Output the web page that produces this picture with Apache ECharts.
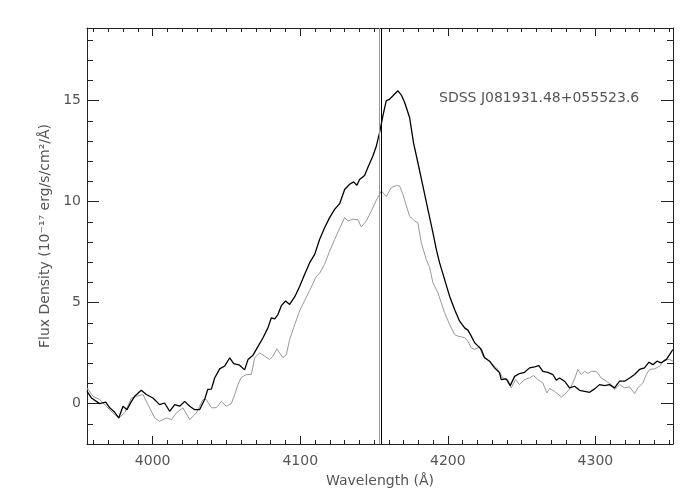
<!DOCTYPE html>
<html>
<head>
<meta charset="utf-8">
<script src="https://cdn.jsdelivr.net/npm/echarts@6/dist/echarts.min.js"></script>
<style>html,body{margin:0;padding:0;background:#fff}#c{width:700px;height:500px}</style>
</head>
<body>
<div id="c"></div>
<script>
// ---- data ----
const blackWave = [3955.5,3958.5,3964.1,3968.2,3970.9,3974.3,3977.0,3979.9,3982.6,3985.6,3987.8,3992.3,3995.7,4000.2,4004.7,4008.1,4011.5,4014.9,4018.3,4021.7,4025.1,4028.5,4031.8,4033.0,4035.2,4037.3,4039.8,4042.0,4045.4,4048.8,4052.2,4054.9,4058.9,4062.3,4064.6,4068.0,4071.1,4074.7,4078.1,4080.4,4082.7,4084.9,4087.2,4090.1,4092.8,4096.2,4099.6,4103.0,4106.4,4109.8,4113.1,4116.5,4119.9,4123.3,4126.7,4130.1,4133.5,4136.2,4138.4,4140.2,4143.6,4145.9,4149.3,4151.6,4153.8,4156.0,4158.3,4160.1,4161.7,4164.0,4166.2,4167.3,4168.5,4170.7,4174.1,4176.8,4179.7,4183.1,4186.5,4189.9,4192.2,4194.4,4197.8,4201.2,4204.6,4208.0,4211.4,4213.6,4215.9,4218.2,4221.1,4222.7,4224.9,4228.3,4231.7,4235.1,4236.2,4239.6,4242.3,4245.3,4248.6,4252.0,4255.4,4258.8,4261.7,4264.4,4267.8,4269.0,4271.2,4273.5,4275.7,4279.1,4282.5,4285.9,4289.3,4292.7,4296.1,4299.5,4302.8,4306.2,4309.6,4313.0,4316.4,4319.8,4323.2,4326.6,4329.9,4333.3,4336.3,4339.0,4341.7,4344.6,4348.0,4350.3,4352.5];
const blackFlux = [0.61,0.28,0.0,0.07,-0.21,-0.43,-0.71,-0.13,-0.3,0.11,0.36,0.66,0.45,0.28,-0.05,0.03,-0.38,-0.05,-0.13,0.11,-0.13,-0.3,-0.3,-0.38,0.2,0.7,0.72,1.27,1.72,1.86,2.27,1.98,1.9,1.67,2.18,2.4,2.8,3.25,3.75,4.25,4.2,4.41,4.85,5.08,4.91,5.28,5.8,6.4,6.98,7.39,8.13,8.71,9.21,9.62,9.9,10.6,10.86,10.98,10.81,11.1,11.3,11.7,12.27,12.76,13.43,14.25,15.0,15.05,15.16,15.33,15.49,15.54,15.28,14.92,14.17,12.9,11.94,10.78,9.62,8.47,7.64,6.98,6.15,5.32,4.66,4.08,3.75,3.64,3.34,3.01,2.81,2.68,2.27,2.1,1.77,1.52,1.19,1.22,0.89,1.35,1.49,1.55,1.77,1.82,1.88,1.6,1.55,1.52,1.44,1.16,1.27,1.11,0.78,0.86,0.66,0.61,0.56,0.73,0.94,0.89,0.94,0.78,1.11,1.11,1.27,1.44,1.69,1.77,2.05,1.93,2.1,2.02,2.18,2.43,2.68];
const grayWave = [3955.5,3959.6,3964.1,3968.6,3973.1,3977.0,3981.0,3985.6,3989.0,3993.4,3996.8,4001.4,4004.7,4009.3,4012.7,4016.1,4020.5,4025.1,4029.6,4031.8,4034.1,4036.4,4039.8,4043.2,4046.5,4049.9,4053.3,4055.6,4057.8,4060.1,4063.5,4066.9,4069.1,4072.5,4075.9,4079.3,4081.5,4084.2,4086.0,4088.3,4090.6,4092.8,4096.2,4099.6,4103.0,4106.4,4110.9,4113.1,4116.5,4119.9,4123.3,4126.7,4130.1,4132.3,4135.7,4139.1,4141.4,4144.8,4148.2,4151.6,4155.0,4158.3,4161.7,4165.1,4167.3,4169.6,4171.9,4174.1,4177.5,4179.7,4182.0,4185.4,4187.7,4189.9,4193.3,4195.6,4197.8,4201.2,4204.6,4206.8,4209.1,4211.4,4213.6,4215.9,4218.2,4221.5,4223.8,4227.2,4230.6,4233.9,4237.3,4240.7,4243.0,4245.9,4248.6,4252.0,4255.4,4258.1,4261.0,4264.4,4267.1,4269.0,4272.3,4276.9,4280.3,4283.7,4285.9,4288.1,4290.4,4292.7,4294.9,4297.2,4300.6,4304.0,4307.4,4310.8,4313.0,4316.4,4319.8,4323.2,4326.6,4328.8,4332.2,4334.5,4336.7,4340.1,4343.5,4346.9,4350.3,4352.5];
const grayFlux = [0.78,0.36,0.2,-0.13,-0.46,-0.71,-0.46,0.28,0.36,0.45,-0.05,-0.71,-0.88,-0.71,-0.79,-0.46,-0.21,-0.79,-0.46,-0.13,0.2,0.2,-0.21,-0.2,0.1,-0.13,0.0,0.45,0.94,1.3,1.44,1.45,2.27,2.51,2.35,2.18,2.35,2.71,2.51,2.27,2.43,3.17,3.9,4.6,5.1,5.6,6.3,6.45,6.9,7.55,8.13,8.67,9.21,9.04,9.13,9.1,8.75,9.05,9.55,10.08,10.53,10.25,10.7,10.8,10.78,10.37,9.79,9.29,9.04,8.96,7.97,7.14,6.73,5.99,5.49,4.99,4.5,3.92,3.42,3.34,3.31,3.26,3.09,2.76,2.68,2.81,2.35,2.18,1.93,1.69,1.27,1.19,0.78,1.19,0.94,1.19,1.27,1.39,1.19,1.03,0.53,0.75,0.61,0.33,0.53,0.86,1.22,1.69,1.44,1.6,1.49,1.6,1.6,1.27,1.11,0.94,0.69,0.94,0.78,0.83,0.5,0.78,1.03,1.44,1.69,1.72,1.85,2.18,2.18,2.1];
const vlineGray = 4153.3;
const vlineBlack = 4154.7;
const xMajorTicks = [4000, 4100, 4200, 4300];
const xMinorTicks = [3960,3970,3980,3990,4010,4020,4030,4040,4050,4060,4070,4080,4090,4110,4120,4130,4140,4150,4160,4170,4180,4190,4210,4220,4230,4240,4250,4260,4270,4280,4290,4310,4320,4330,4340,4350];
const yMajorTicks = [0, 5, 10, 15];
const yMinorTicks = [-1,1,2,3,4,6,7,8,9,11,12,13,14,16,17,18];
const titleText = 'SDSS J081931.48+055523.6';
const xName = 'Wavelength (Å)';
const yName = 'Flux Density (10⁻¹⁷ erg/s/cm²/Å)';
const xRange = [3955.5, 4352.6];
const yRange = [-2, 18.6];

// ---- chart ----
const FONT = 'DejaVu Sans';
const AX = '#222';
const TXT = '#555';
const blackData = blackWave.map((w, i) => [w, blackFlux[i]]);
const grayData = grayWave.map((w, i) => [w, grayFlux[i]]);
const plain = v => String(v);

function xAxisDef(pos, ticks, len, labels, line, extra) {
  return Object.assign({
    type: 'value', position: pos, min: xRange[0], max: xRange[1],
    axisLine: { show: line, onZero: false, lineStyle: { color: AX, width: 1 } },
    axisTick: { show: true, inside: true, length: len, customValues: ticks, lineStyle: { color: AX, width: 1 } },
    axisLabel: labels ? { show: true, customValues: ticks, formatter: plain, color: TXT, fontFamily: FONT, fontSize: 14, margin: 10 } : { show: false },
    splitLine: { show: false }
  }, extra || {});
}
function yAxisDef(pos, ticks, len, labels, line, extra) {
  return Object.assign({
    type: 'value', position: pos, min: yRange[0], max: yRange[1],
    axisLine: { show: line, onZero: false, lineStyle: { color: AX, width: 1 } },
    axisTick: { show: true, inside: true, length: len, customValues: ticks, lineStyle: { color: AX, width: 1 } },
    axisLabel: labels ? { show: true, customValues: ticks, formatter: plain, color: TXT, fontFamily: FONT, fontSize: 14, margin: 6 } : { show: false },
    splitLine: { show: false }
  }, extra || {});
}

const chart = echarts.init(document.getElementById('c'), null, { renderer: 'canvas' });
chart.setOption({
  animation: false,
  backgroundColor: '#fff',
  textStyle: { fontFamily: FONT },
  title: {
    text: titleText, left: 439, top: 91, padding: 0,
    textStyle: { color: TXT, fontFamily: FONT, fontSize: 14, fontWeight: 'normal' }
  },
  grid: { left: 87, top: 28, width: 586, height: 416, containLabel: false },
  xAxis: [
    xAxisDef('bottom', xMajorTicks, 8, true, true, {
      name: xName, nameLocation: 'middle', nameGap: 30,
      nameTextStyle: { color: TXT, fontFamily: FONT, fontSize: 14 }
    }),
    xAxisDef('bottom', xMinorTicks, 4, false, false),
    xAxisDef('top', xMajorTicks, 8, false, true),
    xAxisDef('top', xMinorTicks, 4, false, false)
  ],
  yAxis: [
    yAxisDef('left', yMajorTicks, 12, true, true, {
      name: yName, nameLocation: 'middle', nameGap: 31, nameRotate: 90,
      nameTextStyle: { color: TXT, fontFamily: FONT, fontSize: 14 }
    }),
    yAxisDef('left', yMinorTicks, 6, false, false),
    yAxisDef('right', yMajorTicks, 12, false, true),
    yAxisDef('right', yMinorTicks, 6, false, false)
  ],
  series: [
    {
      type: 'line', data: grayData, xAxisIndex: 0, yAxisIndex: 0,
      showSymbol: false, symbol: 'none', smooth: false,
      lineStyle: { color: '#999', width: 1 }, z: 2,
      markLine: {
        silent: true, symbol: ['none', 'none'], label: { show: false },
        lineStyle: { color: '#999', width: 1, type: 'solid' },
        data: [{ xAxis: vlineGray }]
      }
    },
    {
      type: 'line', data: blackData, xAxisIndex: 0, yAxisIndex: 0,
      showSymbol: false, symbol: 'none', smooth: false,
      lineStyle: { color: '#000', width: 1.3 }, z: 3,
      markLine: {
        silent: true, symbol: ['none', 'none'], label: { show: false },
        lineStyle: { color: '#000', width: 1, type: 'solid' },
        data: [{ xAxis: vlineBlack }]
      }
    }
  ]
});
</script>
</body>
</html>
